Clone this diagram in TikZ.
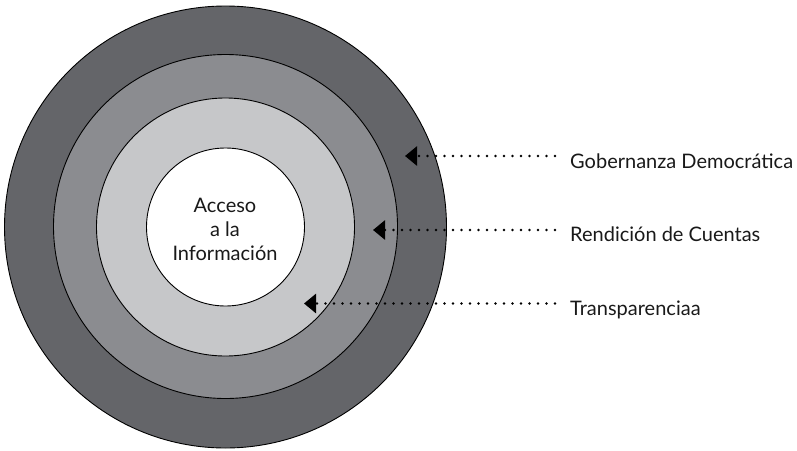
\documentclass[tikz,border=0pt]{standalone}
\usepackage{fontspec}
\setmainfont{Lato}
\usetikzlibrary{arrows.meta}
\definecolor{ringA}{HTML}{646569}
\definecolor{ringB}{HTML}{8B8C90}
\definecolor{ringC}{HTML}{C6C7C9}
\begin{document}
\begin{tikzpicture}[x=1pt,y=-1pt,
  ring/.style={circle, draw=black, line width=0.9pt, inner sep=0pt},
  txt/.style={font=\fontsize{20}{24}\selectfont, text=black!90},
  lbl/.style={txt, anchor=base west, inner sep=0pt},
  pointer/.style={line width=2.8pt, line cap=round, dash pattern=on 0pt off 8.5pt,
    -{Triangle[length=12pt,width=19pt]}}]
\useasboundingbox (0,0) rectangle (797,450);
\node[ring, fill=ringA, minimum size=442pt] (outer) at (225.5,227) {};
\node[ring, fill=ringB, minimum size=344pt] (mid) at (225.5,226.5) {};
\node[ring, fill=ringC, minimum size=258pt] (inner) at (225.5,227) {};
\node[ring, fill=white, minimum size=158pt] (core) at (225.5,227) {};
\node[txt, align=center, inner sep=0pt] (coretext) at (225,229) {Acceso\\a la\\Información};
\node[lbl] (gob) at (570,168) {Gobernanza Democrática};
\node[lbl] (ren) at (570,241) {Rendición de Cuentas};
\node[lbl] (tra) at (570,315) {Transparenciaa};
\coordinate (s1) at (555,156);
\coordinate (t1) at (405,156);
\coordinate (s2) at (555,230);
\coordinate (t2) at (373,230);
\coordinate (s3) at (555,303.5);
\coordinate (t3) at (304,303.5);
\draw[pointer] (s1) -- (t1);
\draw[pointer] (s2) -- (t2);
\draw[pointer] (s3) -- (t3);
\end{tikzpicture}
\end{document}
